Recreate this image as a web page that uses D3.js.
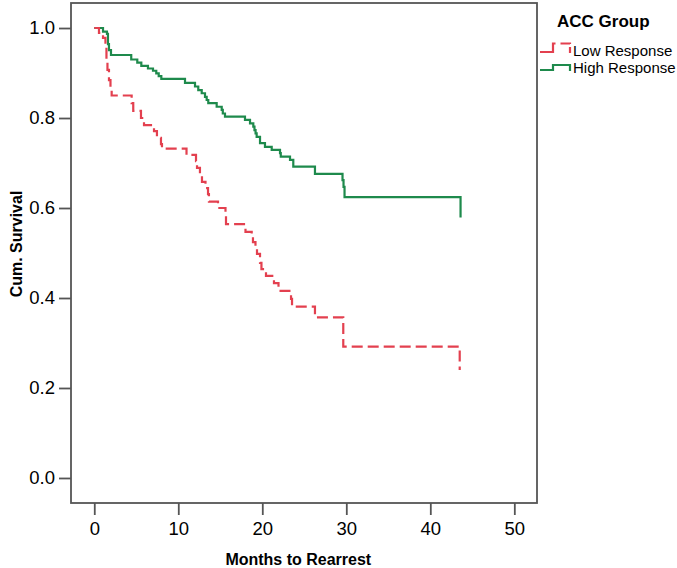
<!DOCTYPE html>
<html>
<head>
<meta charset="utf-8">
<script src="https://cdn.jsdelivr.net/npm/d3@7/dist/d3.min.js"></script>
<style>
  html, body { margin: 0; padding: 0; background: #fff; }
  svg { display: block; }
  text { font-family: "Liberation Sans", Arial, sans-serif; fill: #000; }
</style>
</head>
<body>
<svg id="chart" width="677" height="568"></svg>
<script>
// ---- Data ----
const xTicks = [0, 10, 20, 30, 40, 50];
const yTicks = [0.0, 0.2, 0.4, 0.6, 0.8, 1.0];
const groups = ["Low Response", "High Response"];
const lowTimes = [0, 0.56, 1.04, 1.33, 1.45, 1.57, 1.75, 1.93, 2.07, 4.45, 4.64, 5.56, 5.92, 7.11, 7.46, 7.94, 8.06, 10.98, 12.11, 12.23, 12.58, 12.82, 13.24, 13.54, 13.65, 14.73, 15.62, 15.68, 18.0, 18.74, 18.89, 19.19, 19.37, 19.73, 19.9, 20.44, 21.39, 21.93, 23.42, 23.54, 26.27, 29.64, 43.5];
const lowSurv = [1.0, 0.989, 0.978, 0.956, 0.929, 0.907, 0.884, 0.867, 0.850, 0.833, 0.816, 0.800, 0.784, 0.771, 0.756, 0.742, 0.732, 0.718, 0.704, 0.689, 0.673, 0.658, 0.644, 0.631, 0.614, 0.600, 0.582, 0.564, 0.547, 0.536, 0.524, 0.511, 0.498, 0.478, 0.464, 0.449, 0.433, 0.416, 0.398, 0.381, 0.357, 0.292, 0.240];
const highTimes = [0, 1.04, 1.51, 1.63, 1.75, 1.99, 4.40, 5.12, 5.60, 6.39, 6.99, 7.38, 7.67, 7.98, 10.80, 11.99, 12.38, 12.79, 13.18, 13.38, 13.57, 14.57, 15.17, 15.3, 15.56, 17.94, 18.54, 18.93, 19.07, 19.2, 19.33, 19.73, 20.32, 21.12, 22.11, 22.2, 23.30, 23.69, 26.27, 29.55, 29.67, 29.79, 43.6];
const highSurv = [1.0, 0.992, 0.987, 0.964, 0.951, 0.940, 0.930, 0.923, 0.916, 0.910, 0.905, 0.899, 0.893, 0.887, 0.878, 0.870, 0.862, 0.855, 0.847, 0.840, 0.833, 0.825, 0.818, 0.810, 0.803, 0.796, 0.788, 0.781, 0.773, 0.766, 0.758, 0.744, 0.736, 0.729, 0.722, 0.714, 0.707, 0.692, 0.676, 0.662, 0.647, 0.624, 0.579];

const colors = { low: "#e3404f", high: "#1e8a4c" };
const axisColor = "#555";

// ---- Layout ----
const frame = { left: 71, right: 537, top: 3, bottom: 503 };
const svg = d3.select("#chart");

const x = d3.scaleLinear().domain([-2.77, 52.7]).range([frame.left, frame.right]);
const y = d3.scaleLinear().domain([-0.0556, 1.0556]).range([frame.bottom, frame.top]);

// Frame
svg.append("rect")
  .attr("x", frame.left).attr("y", frame.top)
  .attr("width", frame.right - frame.left).attr("height", frame.bottom - frame.top)
  .attr("fill", "none").attr("stroke", axisColor).attr("stroke-width", 1.8);

// Axes
const xAxis = d3.axisBottom(x).tickValues(xTicks).tickFormat(d3.format("d")).tickSize(12).tickPadding(7);
const gx = svg.append("g").attr("transform", `translate(0,${frame.bottom})`).call(xAxis);
const yAxis = d3.axisLeft(y).tickValues(yTicks).tickFormat(d3.format(".1f")).tickSize(12).tickPadding(4);
const gy = svg.append("g").attr("transform", `translate(${frame.left},0)`).call(yAxis);

[gx, gy].forEach(g => {
  g.select(".domain").remove();
  g.selectAll(".tick line").attr("stroke", axisColor).attr("stroke-width", 1.8);
  g.selectAll(".tick text").attr("font-size", 18.5).attr("fill", "#111")
    .attr("font-family", "'Liberation Sans', Arial, sans-serif");
});

// Axis titles
svg.append("text")
  .attr("x", (x(0) + x(50)) / 2 - 6).attr("y", 565)
  .attr("text-anchor", "middle").attr("font-size", 16).attr("font-weight", "bold")
  .text("Months to Rearrest");

svg.append("text")
  .attr("transform", `translate(22,${y(0.52)}) rotate(-90)`)
  .attr("text-anchor", "middle").attr("font-size", 16).attr("font-weight", "bold")
  .text("Cum. Survival");

// Curves
const line = d3.line().x(d => x(d[0])).y(d => y(d[1])).curve(d3.curveStepAfter);
const lowData = lowTimes.map((t, i) => [t, lowSurv[i]]);
const highData = highTimes.map((t, i) => [t, highSurv[i]]);

svg.append("path").datum(highData).attr("d", line)
  .attr("fill", "none").attr("stroke", colors.high).attr("stroke-width", 2.2);
svg.append("path").datum(lowData).attr("d", line)
  .attr("fill", "none").attr("stroke", colors.low).attr("stroke-width", 2.2)
  .attr("stroke-dasharray", "11,5");

// Legend
const lg = svg.append("g");
lg.append("text").attr("x", 557).attr("y", 26.5)
  .attr("font-size", 17).attr("font-weight", "bold").text("ACC Group");

const legendItems = [
  { name: groups[0], color: colors.low, dash: true, yb: 52, yt: 43.5, ty: 55.5 },
  { name: groups[1], color: colors.high, dash: false, yb: 70, yt: 65, ty: 73 }
];
legendItems.forEach(it => {
  const p = d3.path();
  p.moveTo(540, it.yb); p.lineTo(553, it.yb); p.lineTo(553, it.yt);
  p.lineTo(570, it.yt); p.lineTo(570, it.yb + 1);
  const el = lg.append("path").attr("d", p.toString())
    .attr("fill", "none").attr("stroke", it.color).attr("stroke-width", 2.2);
  if (it.dash) el.attr("stroke-dasharray", "24,5,10,3");
  lg.append("text").attr("x", 573).attr("y", it.ty)
    .attr("font-size", 15).text(it.name);
});
</script>
</body>
</html>
